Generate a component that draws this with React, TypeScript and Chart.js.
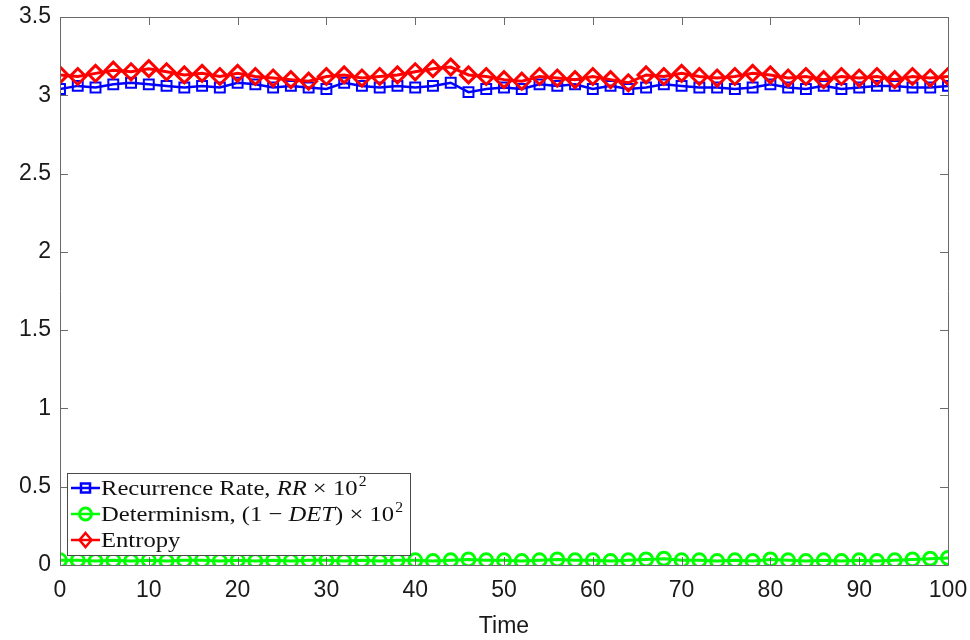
import React, { useEffect, useRef } from "react";
import { Chart, registerables } from "chart.js";

Chart.register(...registerables);

const times = [0,2,4,6,8,10,12,14,16,18,20,22,24,26,28,30,32,34,36,38,40,42,44,46,48,50,52,54,56,58,60,62,64,66,68,70,72,74,76,78,80,82,84,86,88,90,92,94,96,98,100];

const recurrenceRate = [3.04,3.06,3.05,3.07,3.08,3.07,3.06,3.05,3.06,3.05,3.08,3.07,3.05,3.06,3.05,3.04,3.08,3.06,3.05,3.06,3.05,3.06,3.08,3.02,3.04,3.05,3.04,3.07,3.06,3.07,3.04,3.06,3.04,3.05,3.07,3.06,3.05,3.05,3.04,3.05,3.07,3.05,3.04,3.06,3.04,3.05,3.06,3.06,3.05,3.05,3.06];

const determinism = [0.03,0.03,0.025,0.03,0.025,0.03,0.025,0.03,0.03,0.025,0.03,0.025,0.03,0.025,0.03,0.03,0.025,0.03,0.025,0.03,0.03,0.025,0.03,0.035,0.03,0.03,0.025,0.03,0.035,0.03,0.03,0.025,0.03,0.035,0.04,0.03,0.03,0.025,0.03,0.025,0.035,0.03,0.025,0.03,0.025,0.03,0.025,0.03,0.035,0.04,0.045];

const entropy = [3.13,3.12,3.14,3.16,3.15,3.17,3.15,3.13,3.14,3.12,3.14,3.12,3.11,3.10,3.09,3.12,3.13,3.11,3.12,3.13,3.15,3.17,3.18,3.13,3.12,3.10,3.09,3.12,3.11,3.10,3.12,3.10,3.08,3.13,3.12,3.14,3.12,3.11,3.12,3.14,3.13,3.11,3.12,3.10,3.12,3.11,3.12,3.10,3.12,3.11,3.12];

const xTicks = [0,10,20,30,40,50,60,70,80,90,100];
const yTicks = [0,0.5,1,1.5,2,2.5,3,3.5];

const legendRows = [
  { color: "#0000ff", marker: "square", parts: [["Recurrence Rate, ", "n"], ["RR", "i"], [" × 10", "n"], ["2", "s"]] },
  { color: "#00ff00", marker: "circle", parts: [["Determinism, (1 − ", "n"], ["DET", "i"], [") × 10", "n"], ["2", "s"]] },
  { color: "#ff0000", marker: "diamond", parts: [["Entropy", "n"]] },
];

const AXIS_COLOR = "#6a6a6a";
const SERIF = '"Liberation Serif", "DejaVu Serif", serif';
const SANS = '"Liberation Sans", Arial, sans-serif';

function drawMarker(ctx: CanvasRenderingContext2D, kind: string, x: number, y: number, color: string) {
  ctx.save();
  ctx.strokeStyle = color;
  ctx.lineWidth = kind === "circle" ? 3 : 2.5;
  ctx.beginPath();
  if (kind === "square") {
    ctx.rect(x - 4.5, y - 4.5, 9, 9);
  } else if (kind === "circle") {
    ctx.arc(x, y, 6, 0, Math.PI * 2);
  } else {
    ctx.moveTo(x, y - 7);
    ctx.lineTo(x + 6, y);
    ctx.lineTo(x, y + 7);
    ctx.lineTo(x - 6, y);
    ctx.closePath();
  }
  ctx.stroke();
  ctx.restore();
}

function measureRow(ctx: CanvasRenderingContext2D, parts: string[][], size: number) {
  let w = 0;
  parts.forEach(([txt, style]) => {
    if (style === "s") {
      ctx.font = `${Math.round(size * 0.65)}px ${SERIF}`;
      w += ctx.measureText(txt).width + 1;
    } else {
      ctx.font = `${style === "i" ? "italic " : ""}${size}px ${SERIF}`;
      w += ctx.measureText(txt).width;
    }
  });
  return w;
}

const framePlugin = {
  id: "framePlugin",
  afterDraw(chart: any) {
    const { ctx, chartArea } = chart;
    const { left, right, top, bottom } = chartArea;
    const xs = chart.scales.x;
    const ys = chart.scales.y;
    ctx.save();
    ctx.strokeStyle = AXIS_COLOR;
    ctx.lineWidth = 1;
    ctx.beginPath();
    ctx.rect(Math.round(left) + 0.5, Math.round(top) + 0.5, Math.round(right - left), Math.round(bottom - top));
    ctx.stroke();
    const tl = 8;
    ctx.beginPath();
    xTicks.forEach((v) => {
      const px = Math.round(xs.getPixelForValue(v)) + 0.5;
      ctx.moveTo(px, bottom);
      ctx.lineTo(px, bottom - tl);
      ctx.moveTo(px, top);
      ctx.lineTo(px, top + tl);
    });
    yTicks.forEach((v) => {
      const py = Math.round(ys.getPixelForValue(v)) + 0.5;
      ctx.moveTo(left, py);
      ctx.lineTo(left + tl, py);
      ctx.moveTo(right, py);
      ctx.lineTo(right - tl, py);
    });
    ctx.stroke();

    // legend
    const bx = 67, by = 473, bw = 343, bh = 82;
    ctx.fillStyle = "#ffffff";
    ctx.fillRect(bx, by, bw, bh);
    ctx.strokeStyle = "#4a4a4a";
    ctx.strokeRect(bx + 0.5, by + 0.5, bw, bh);
    const size = 22;
    const targetW = 302;
    const scaleX = targetW / measureRow(ctx, legendRows[1].parts as string[][], size);
    const rowY = [488, 514, 540];
    legendRows.forEach((row, i) => {
      const y = rowY[i];
      ctx.strokeStyle = row.color;
      ctx.lineWidth = 2.5;
      ctx.beginPath();
      ctx.moveTo(71, y);
      ctx.lineTo(100, y);
      ctx.stroke();
      drawMarker(ctx, row.marker, 85.5, y, row.color);
      ctx.save();
      ctx.translate(101, 0);
      ctx.scale(scaleX, 1);
      let x = 0;
      ctx.fillStyle = "#111111";
      ctx.textBaseline = "alphabetic";
      ctx.textAlign = "left";
      (row.parts as string[][]).forEach(([txt, style]) => {
        if (style === "s") {
          ctx.font = `${Math.round(size * 0.65)}px ${SERIF}`;
          ctx.fillText(txt, x + 1, y - 2);
          x += ctx.measureText(txt).width + 1;
        } else {
          ctx.font = `${style === "i" ? "italic " : ""}${size}px ${SERIF}`;
          ctx.fillText(txt, x, y + 7);
          x += ctx.measureText(txt).width;
        }
      });
      ctx.restore();
    });
    ctx.restore();
  },
};

const zeroPad = (s: any) => {
  s.paddingLeft = 0;
  s.paddingRight = 0;
  s.paddingTop = 0;
  s.paddingBottom = 0;
};

export default function App() {
  const ref = useRef<HTMLCanvasElement | null>(null);
  useEffect(() => {
    document.body.style.margin = "0";
    if (!ref.current) return;
    const mk = (arr: number[]) => times.map((t, i) => ({ x: t, y: arr[i] }));
    const chart = new Chart(ref.current, {
      type: "line",
      data: {
        datasets: [
          {
            label: "Recurrence Rate, RR × 10²",
            data: mk(recurrenceRate),
            borderColor: "#0000ff",
            backgroundColor: "transparent",
            borderWidth: 2.5,
            pointStyle: "rect",
            pointRadius: 7,
            pointBorderWidth: 2,
            pointBorderColor: "#0000ff",
            pointBackgroundColor: "transparent",
            tension: 0,
            order: 3,
          },
          {
            label: "Determinism, (1 − DET) × 10²",
            data: mk(determinism),
            borderColor: "#00ff00",
            backgroundColor: "transparent",
            borderWidth: 3,
            pointStyle: "circle",
            pointRadius: 6.5,
            pointBorderWidth: 3,
            pointBorderColor: "#00ff00",
            pointBackgroundColor: "transparent",
            tension: 0,
            order: 2,
          },
          {
            label: "Entropy",
            data: mk(entropy),
            borderColor: "#ff0000",
            backgroundColor: "transparent",
            borderWidth: 3,
            pointStyle: "rectRot",
            pointRadius: 8,
            pointBorderWidth: 3,
            pointBorderColor: "#ff0000",
            pointBackgroundColor: "transparent",
            tension: 0,
            order: 1,
          },
        ],
      },
      options: {
        animation: false,
        responsive: false,
        maintainAspectRatio: false,
        layout: { padding: { top: 17, right: 22, left: 0, bottom: 0 } },
        plugins: { legend: { display: false }, tooltip: { enabled: false } },
        scales: {
          x: {
            type: "linear",
            min: 0,
            max: 100,
            afterFit: (s: any) => { s.height = 75; zeroPad(s); },
            afterBuildTicks: (s: any) => { s.ticks = xTicks.map((v) => ({ value: v })); },
            ticks: {
              autoSkip: false,
              maxRotation: 0,
              padding: 12,
              color: "#1a1a1a",
              font: { family: SANS, size: 23 },
              callback: (v: any) => String(v),
            },
            grid: { display: false, drawTicks: false },
            border: { display: false },
            title: {
              display: true,
              text: "Time",
              color: "#1a1a1a",
              font: { family: SANS, size: 23 },
              padding: { top: 0, bottom: 0 },
            },
          },
          y: {
            type: "linear",
            min: 0,
            max: 3.5,
            afterFit: (s: any) => { s.width = 60; zeroPad(s); },
            afterBuildTicks: (s: any) => { s.ticks = yTicks.map((v) => ({ value: v })); },
            ticks: {
              autoSkip: false,
              padding: 9,
              color: "#1a1a1a",
              font: { family: SANS, size: 23 },
              callback: (v: any) => String(v),
            },
            grid: { display: false, drawTicks: false },
            border: { display: false },
          },
        },
      },
      plugins: [framePlugin],
    } as any);
    return () => chart.destroy();
  }, []);
  return (
    <div style={{ width: 970, height: 640, background: "#fff" }}>
      <canvas ref={ref} width={970} height={640} style={{ display: "block" }} />
    </div>
  );
}
